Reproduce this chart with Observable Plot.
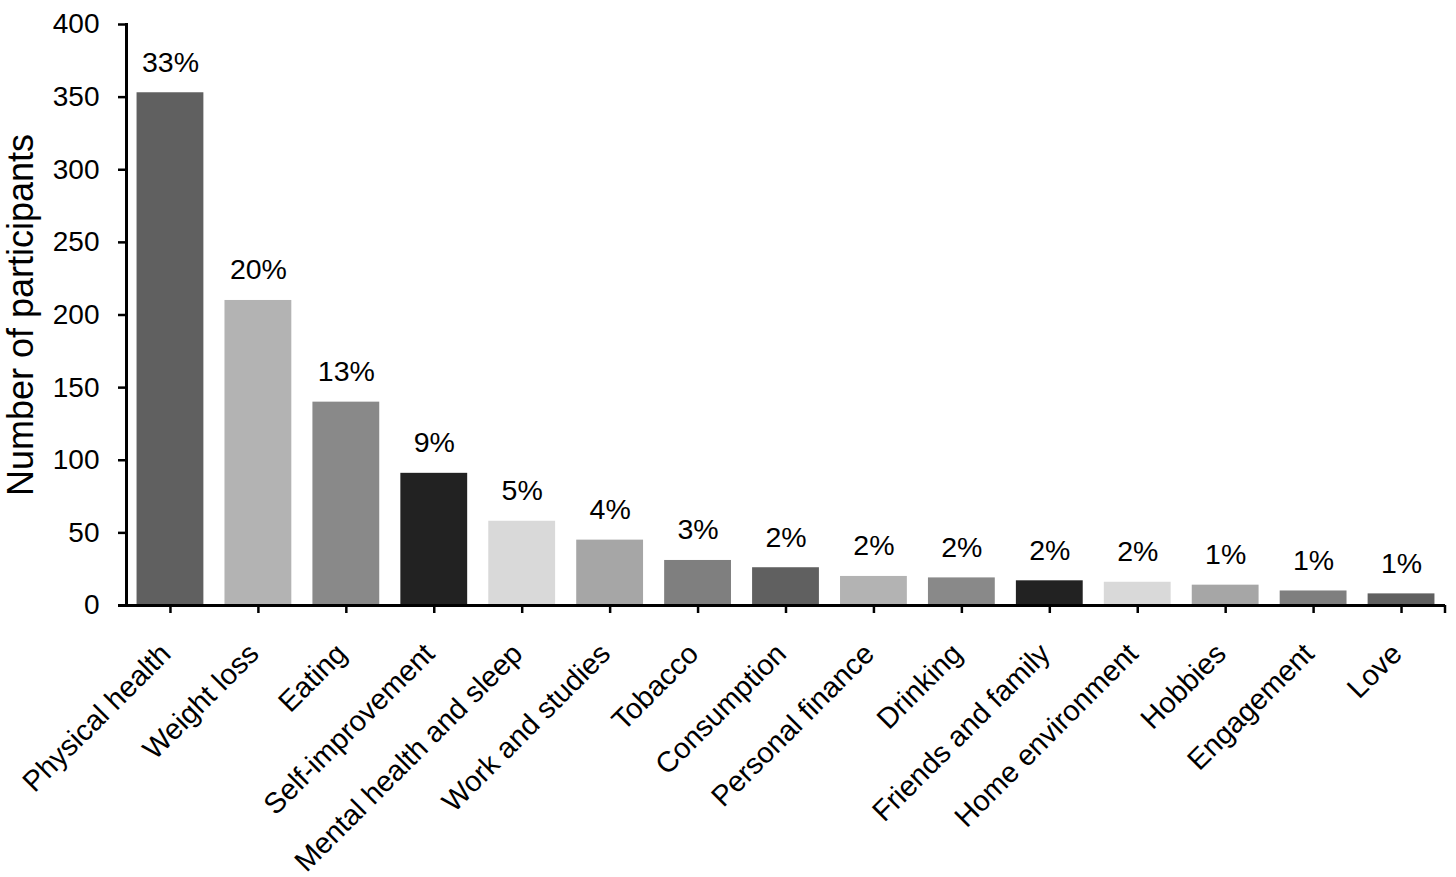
<!DOCTYPE html>
<html><head><meta charset="utf-8">
<script src="https://cdn.jsdelivr.net/npm/d3@7"></script>
<script src="https://cdn.jsdelivr.net/npm/@observablehq/plot@0.6"></script>
<style>html,body{margin:0;padding:0;background:#fff} svg{display:block}</style>
</head><body><div id="chart"></div>
<script>
const categories = ["Physical health","Weight loss","Eating","Self-improvement","Mental health and sleep","Work and studies","Tobacco","Consumption","Personal finance","Drinking","Friends and family","Home environment","Hobbies","Engagement","Love"];
const participants = [353,210,140,91,58,45,31,26,20,19,17,16,14,10,8];
const percentLabels = ["33%","20%","13%","9%","5%","4%","3%","2%","2%","2%","2%","2%","1%","1%","1%"];
const barColors = ["#606060","#b3b3b3","#898989","#222222","#d9d9d9","#a6a6a6","#7f7f7f","#606060","#b3b3b3","#898989","#222222","#d9d9d9","#a6a6a6","#7f7f7f","#606060"];
const yTicks = [0,50,100,150,200,250,300,350,400];
const yTitle = "Number of participants";

const data = categories.map((c,i)=>({category:c, value:participants[i], label:percentLabels[i], color:barColors[i]}));

const chart = Plot.plot({
  width:1456, height:877,
  marginLeft:126, marginRight:11, marginTop:24, marginBottom:272,
  style:{fontFamily:"'Liberation Sans', Arial, sans-serif", fontSize:"28px", color:"#000", background:"#fff", overflow:"visible"},
  x:{type:"band", domain:categories, paddingInner:0.24, paddingOuter:0.12, round:false, axis:null},
  y:{domain:[0,400], axis:null},
  color:{type:"identity"},
  marks:[
    Plot.barY(data,{x:"category", y:"value", fill:"color"}),
    Plot.text(data,{x:"category", y:"value", text:"label", lineAnchor:"bottom", dy:-21, fontSize:28.5, fill:"#000"}),
    Plot.axisY({ticks:yTicks, tickSize:8, tickPadding:19, tickFormat:d=>String(d), fontSize:28, label:null, strokeWidth:2.5, stroke:"#000", fill:"#000"}),
    Plot.axisX({tickSize:8, tickFormat:()=>"", label:null, strokeWidth:2.5, stroke:"#000"}),
    Plot.frame({anchor:"left", strokeWidth:3, stroke:"#000"}),
    Plot.ruleY([0],{strokeWidth:3, stroke:"#000", insetLeft:-8}),
    Plot.text(data,{x:"category", text:"category", frameAnchor:"bottom", rotate:-45, textAnchor:"end", lineAnchor:"bottom", dy:50, dx:2, fontSize:29, fill:"#000"}),
    Plot.text([yTitle],{frameAnchor:"left", rotate:-90, textAnchor:"middle", lineAnchor:"bottom", dx:-94, fontSize:36, fill:"#000"})
  ]
});

// extra end tick at the right edge of the x axis (Excel-style), from the library's scales
const xs = chart.scale("x"), ysc = chart.scale("y");
const xEnd = xs.range[1], y0 = ysc.apply(0);
d3.select(chart).append("line")
  .attr("x1", xEnd).attr("x2", xEnd).attr("y1", y0).attr("y2", y0 + 8)
  .attr("stroke", "#000").attr("stroke-width", 2.5);

document.getElementById("chart").appendChild(chart);
</script>
</body></html>
